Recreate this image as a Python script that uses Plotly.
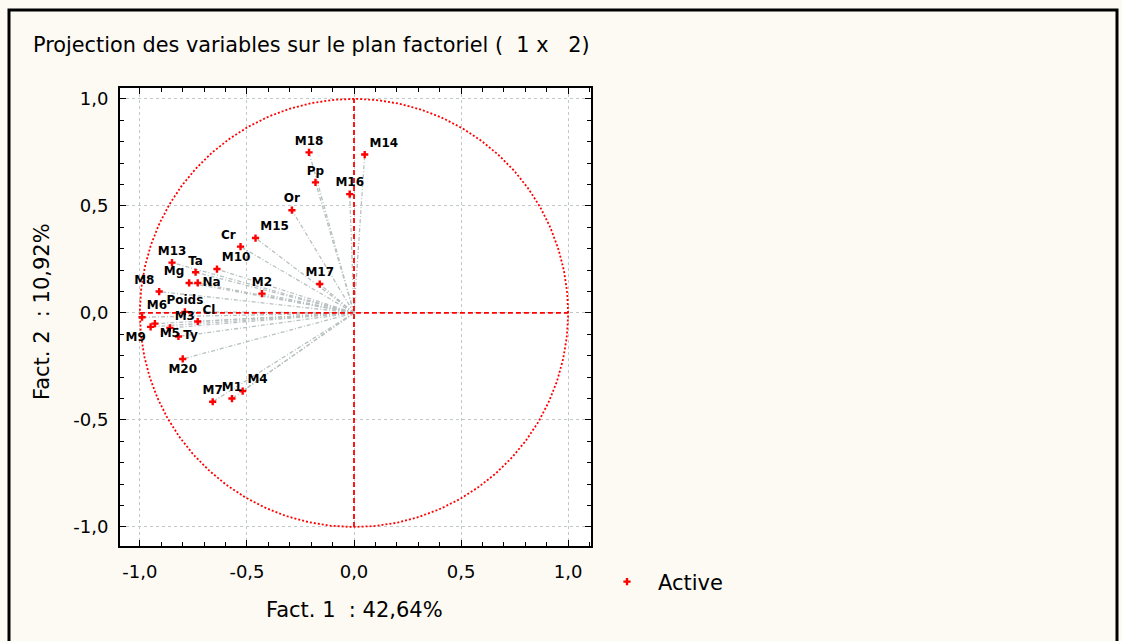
import numpy as np
import plotly.graph_objects as go

# Variable coordinates on factors 1 and 2
variables = ["M18", "M14", "Pp", "M16", "Or", "M15", "Cr", "M17", "M2", "M13",
             "Ta", "M10", "Mg", "Na", "M8", "Poids", "Cl", "M6", "M5", "M9",
             "M3", "Ty", "M20", "M7", "M1", "M4"]
fact1 = [-0.21, 0.05, -0.18, -0.02, -0.29, -0.46, -0.53, -0.16, -0.43, -0.85,
         -0.74, -0.64, -0.77, -0.73, -0.91, -0.79, -0.73, -0.99, -0.93, -0.95,
         -0.86, -0.82, -0.80, -0.66, -0.57, -0.52]
fact2 = [0.75, 0.74, 0.61, 0.555, 0.48, 0.35, 0.31, 0.135, 0.09, 0.235,
         0.19, 0.205, 0.14, 0.14, 0.10, 0.005, -0.04, -0.02, -0.05, -0.065,
         -0.07, -0.11, -0.215, -0.415, -0.40, -0.365]
label_pos = ["top center", "top right", "top center", "top center", "top center",
             "top right", "top left", "top center", "top center", "top center",
             "top center", "top right", "top left", "middle right", "top left",
             "top center", "top right", "top right", "bottom right", "bottom left",
             "top right", "middle right", "bottom center", "top center", "top center",
             "top right"]

tick_vals = [-1.0, -0.5, 0.0, 0.5, 1.0]
tick_text = ["-1,0", "-0,5", "0,0", "0,5", "1,0"]

W, H = 1122, 641
L, R, T, B = 120, 531, 88, 95
pw, ph = W - L - R, H - T - B


def px_x(px):
    return (px - L) / pw


def px_y(py):
    return (H - B - py) / ph


red = "#ff0000"
ray_col = "#b8c0c0"
font = "DejaVu Sans, sans-serif"

fig = go.Figure()

# rays from the origin to each variable
rx, ry = [], []
for a, b in zip(fact1, fact2):
    rx += [0, a, None]
    ry += [0, b, None]
fig.add_trace(go.Scatter(x=rx, y=ry, mode="lines", showlegend=False,
                         hoverinfo="skip",
                         line=dict(color=ray_col, width=1.3, dash="4px,2px,1px,2px")))

# unit correlation circle
t = np.linspace(0, 2 * np.pi, 361)
fig.add_trace(go.Scatter(x=np.cos(t), y=np.sin(t), mode="lines", showlegend=False,
                         hoverinfo="skip",
                         line=dict(color=red, width=1.8, dash="2px,2px")))
# red dashed axes through the origin
fig.add_trace(go.Scatter(x=[-1, 1, None, 0, 0], y=[0, 0, None, -1, 1], mode="lines",
                         showlegend=False, hoverinfo="skip",
                         line=dict(color=red, width=1.8, dash="5px,3px")))

# variable points and labels
fig.add_trace(go.Scatter(x=fact1, y=fact2, mode="markers+text", name="Active",
                         text=variables, textposition=label_pos, cliponaxis=False,
                         textfont=dict(family=font, size=12, color="#000000", weight="bold"),
                         marker=dict(symbol="cross", size=6, color=red,
                                     line=dict(width=0))))

axis_common = dict(
    tickvals=tick_vals, ticktext=tick_text,
    showgrid=True, gridcolor="#c0c8c8", griddash="dot", gridwidth=1,
    zeroline=False, showline=True, linecolor="#000000", linewidth=2,
    mirror="ticks", ticks="inside", ticklen=6, tickcolor="#000000", tickwidth=1,
    minor=dict(dtick=0.1, ticks="inside", ticklen=4, tickcolor="#000000",
               showgrid=False, tick0=0),
    tickfont=dict(family=font, size=18, color="#000000"),
)

fig.update_xaxes(range=[-1.093, 1.107], ticklabelstandoff=8, **axis_common)
fig.update_yaxes(range=[-1.089, 1.051], ticklabelstandoff=6, **axis_common)

annotations = [
    dict(text="Projection des variables sur le plan factoriel (\u00a0 1 x \u00a0\u00a02)",
         x=px_x(31), y=px_y(45), xref="paper", yref="paper",
         xanchor="left", yanchor="middle", showarrow=False,
         font=dict(family=font, size=20.8, color="#000000")),
    dict(text="Fact. 1 \u00a0: 42,64%", x=px_x(354), y=px_y(610),
         xref="paper", yref="paper", xanchor="center", yanchor="middle",
         showarrow=False, font=dict(family=font, size=21, color="#000000")),
    dict(text="Fact. 2 \u00a0: 10,92%", x=px_x(42), y=px_y(312), textangle=-90,
         xref="paper", yref="paper", xanchor="center", yanchor="middle",
         showarrow=False, font=dict(family=font, size=21, color="#000000")),
]

shapes = [
    dict(type="rect", xref="paper", yref="paper",
         x0=px_x(9), x1=px_x(1117), y0=px_y(660), y1=px_y(10),
         line=dict(color="#000000", width=3), fillcolor="rgba(0,0,0,0)", layer="below"),
]

fig.update_layout(
    width=W, height=H,
    margin=dict(l=L, r=R, t=T, b=B),
    paper_bgcolor="#fcfaf3", plot_bgcolor="#ffffff",
    separators=", ",
    showlegend=True,
    legend=dict(x=px_x(596), y=px_y(582), xanchor="left", yanchor="middle",
                bgcolor="rgba(0,0,0,0)", itemwidth=52,
                font=dict(family=font, size=21, color="#000000")),
    annotations=annotations, shapes=shapes,
)

fig.write_html("out.html")
